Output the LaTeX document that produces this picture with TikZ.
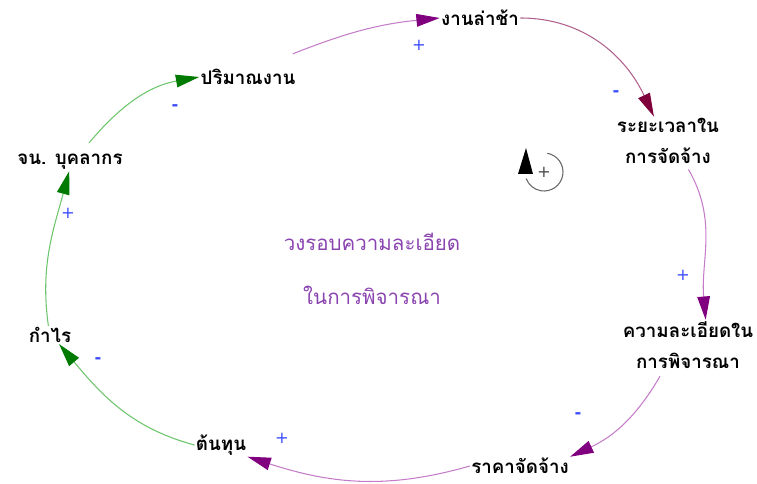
\documentclass[tikz,border=0pt]{standalone}
\usepackage{fontspec}
\newfontfamily\thaifont[Script=Thai]{Loma}
\newfontfamily\polfont{DejaVu Sans}
\usetikzlibrary{arrows.meta}

\definecolor{linkpurple}{HTML}{C47CC8}
\definecolor{tippurple}{HTML}{800080}
\definecolor{linkmaroon}{HTML}{B0608C}
\definecolor{tipmaroon}{HTML}{80003C}
\definecolor{linkgreen}{HTML}{6CC46C}
\definecolor{tipgreen}{HTML}{007A00}
\definecolor{polblue}{HTML}{3C4CFF}
\definecolor{looptext}{HTML}{8A44B0}

\tikzset{
  var/.style={font=\thaifont\bfseries\fontsize{16}{27}\selectfont, align=center, inner sep=1pt},
  plink/.style={draw=linkpurple, line width=0.9pt, -{Triangle[length=7mm, width=3.8mm, color=tippurple]}},
  mlink/.style={draw=linkmaroon, line width=0.9pt, -{Triangle[length=7mm, width=3.8mm, color=tipmaroon]}},
  glink/.style={draw=linkgreen, line width=0.9pt, -{Triangle[length=7mm, width=3.8mm, color=tipgreen]}},
  pol/.style={text=polblue, font=\polfont\fontsize{14}{14}\selectfont, inner sep=0pt},
  neg/.style={pol, font=\polfont\bfseries\fontsize{14}{14}\selectfont}
}

\begin{document}
\begin{tikzpicture}[x=0.03cm, y=-0.03cm]
  \useasboundingbox (0,0) rectangle (757,484);

  % variables
  \node [var] (workload) at (248,77) {ปริมาณงาน};
  \node [var] (delay) at (480,18) {งานล่าช้า};
  \node [var] (hiretime) at (668,141) {ระยะเวลาใน\\การจัดจ้าง};
  \node [var] (detail) at (688,345) {ความละเอียดใน\\การพิจารณา};
  \node [var] (price) at (520,466) {ราคาจัดจ้าง};
  \node [var] (cost) at (221,445) {ต้นทุน};
  \node [var] (profit) at (50,335) {กำไร};
  \node [var] (staff) at (70,162) {จน. บุคลากร};

  % loop name
  \node [font=\thaifont\fontsize{17.5}{46}\selectfont, text=looptext, align=center] (loopname) at (372,269) {วงรอบความละเอียด\\ในการพิจารณา};

  % links
  \draw [plink] (workload.north east) ++(-4,-14) to[bend left=8] (delay.west);
  \draw [mlink] (delay.east) to[out=0, in=115] (hiretime.120);
  \draw [plink] (hiretime.south east) ++(-32,4) to[out=-60, in=95] (detail.55);
  \draw [plink] (detail.south) ++(-28,6) to[out=-120, in=25] (price.north east);
  \draw [plink] (price.west) to[out=196, in=-18] (cost.south east);
  \draw [glink] (cost.west) to[out=165, in=-50] (profit.-45);
  \draw [glink] (profit.100) to[out=98, in=-105] (staff.-95);
  \draw [glink] (staff.north east) ++(-35,-10) to[out=50, in=190] (workload.west);

  % polarities
  \node [pol] (p1) at (419,45) {+};
  \node [neg] (p2) at (616,94) {-};
  \node [pol] (p3) at (683,275) {+};
  \node [neg] (p4) at (578,416) {-};
  \node [pol] (p5) at (282,438) {+};
  \node [neg] (p6) at (98,361) {-};
  \node [pol] (p7) at (68,213) {+};
  \node [neg] (p8) at (175,108) {-};

  % loop symbol (y axis points down here)
  \node [text=black!70, font=\polfont\fontsize{14}{14}\selectfont, inner sep=0pt] (loopsign) at (544,172) {+};
  \draw [black!60, line width=0.9pt] (loopsign.center) ++(-80:19) arc[start angle=-80, end angle=160, radius=19];
  \fill [black] (526,148) -- (518,174) -- (533,174) -- cycle;
\end{tikzpicture}
\end{document}
